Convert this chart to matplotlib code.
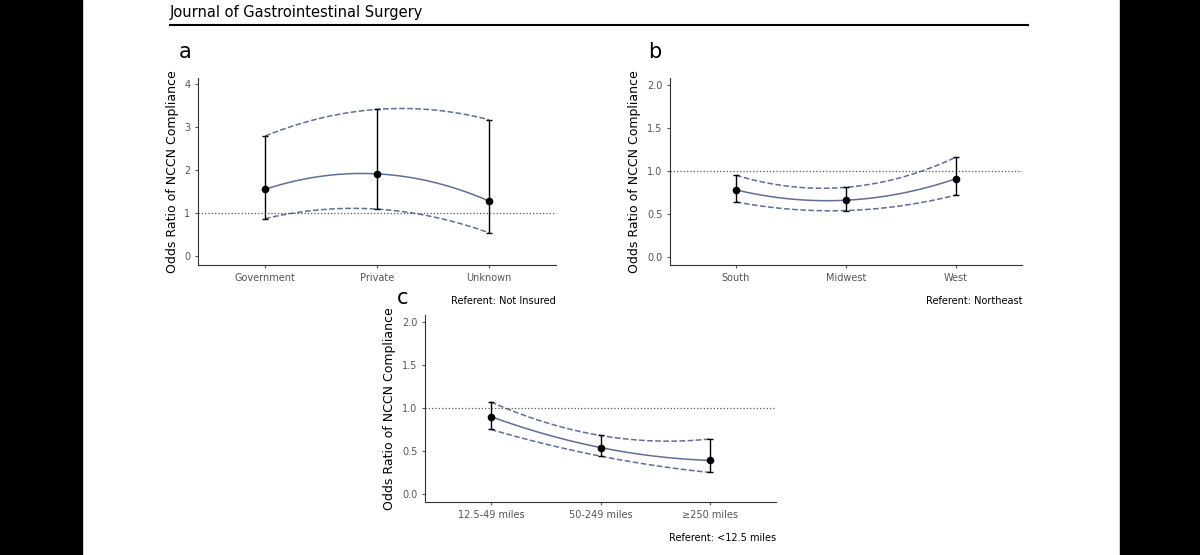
import numpy as np
import matplotlib
matplotlib.use("Agg")
import matplotlib.pyplot as plt
from matplotlib.patches import Rectangle

cats_a = ["Government", "Private", "Unknown"]
est_a = [1.56, 1.92, 1.29]
lo_a = [0.88, 1.10, 0.55]
hi_a = [2.80, 3.42, 3.18]

cats_b = ["South", "Midwest", "West"]
est_b = [0.78, 0.66, 0.91]
lo_b = [0.64, 0.54, 0.72]
hi_b = [0.95, 0.81, 1.16]

cats_c = ["12.5-49 miles", "50-249 miles", "≥250 miles"]
est_c = [0.90, 0.54, 0.39]
lo_c = [0.75, 0.44, 0.25]
hi_c = [1.07, 0.68, 0.64]

W, H = 1200, 555
fig = plt.figure(figsize=(12, 5.55), dpi=100)
fig.patches.append(Rectangle((0, 0), 82 / W, 1, transform=fig.transFigure, color="black", zorder=-1))
fig.patches.append(Rectangle((1120 / W, 0), 80 / W, 1, transform=fig.transFigure, color="black", zorder=-1))
fig.text(170 / W, 1 - 12 / H, "Journal of Gastrointestinal Surgery", fontsize=10.5, va="center", ha="left")
fig.add_artist(plt.Line2D([170 / W, 1028 / W], [1 - 25 / H] * 2, color="black", lw=1.5, transform=fig.transFigure))

blue = "#5c6f9a"

def panel(x0, x1, y0, y1, cats, est, lo, hi, ylim, yticks, yfmt, label, lx, ly, ref):
    ax = fig.add_axes([x0 / W, 1 - y1 / H, (x1 - x0) / W, (y1 - y0) / H])
    x = np.arange(1, 4)
    xs = np.linspace(1, 3, 100)
    for arr, ls in ((est, "-"), (lo, "--"), (hi, "--")):
        c = np.polyfit(x, arr, 2)
        ax.plot(xs, np.polyval(c, xs), ls, color=blue, lw=1.1)
    ax.errorbar(x, est, yerr=[np.array(est) - np.array(lo), np.array(hi) - np.array(est)],
                fmt="o", color="black", ms=4.5, capsize=2, elinewidth=1, lw=1)
    ax.axhline(1, color="#555555", ls=":", lw=0.9)
    ax.set_xlim(0.4, 3.6)
    ax.set_ylim(*ylim)
    ax.set_xticks(x)
    ax.set_xticklabels(cats)
    ax.set_yticks(yticks)
    ax.set_yticklabels([yfmt.format(t) for t in yticks])
    ax.tick_params(labelsize=7, colors="#555555", length=2, labelcolor="#555555")
    for s in ("top", "right"):
        ax.spines[s].set_visible(False)
    for s in ("left", "bottom"):
        ax.spines[s].set_color("#333333")
    ax.set_ylabel("Odds Ratio of NCCN Compliance", fontsize=9)
    ax.text(1.0, -0.19, ref, transform=ax.transAxes, ha="right", va="center", fontsize=7)
    fig.text(lx / W, 1 - ly / H, label, fontsize=15, ha="center", va="center")
    return ax

panel(198, 556, 78, 265, cats_a, est_a, lo_a, hi_a, (-0.2, 4.15), [0, 1, 2, 3, 4], "{:.0f}", "a", 185, 52, "Referent: Not Insured")
panel(670, 1022, 78, 265, cats_b, est_b, lo_b, hi_b, (-0.093, 2.08), [0, 0.5, 1.0, 1.5, 2.0], "{:.1f}", "b", 655, 52, "Referent: Northeast")
panel(425, 776, 315, 502, cats_c, est_c, lo_c, hi_c, (-0.093, 2.08), [0, 0.5, 1.0, 1.5, 2.0], "{:.1f}", "c", 403, 298, "Referent: <12.5 miles")

fig.savefig("out.png", dpi=100, facecolor="white")
